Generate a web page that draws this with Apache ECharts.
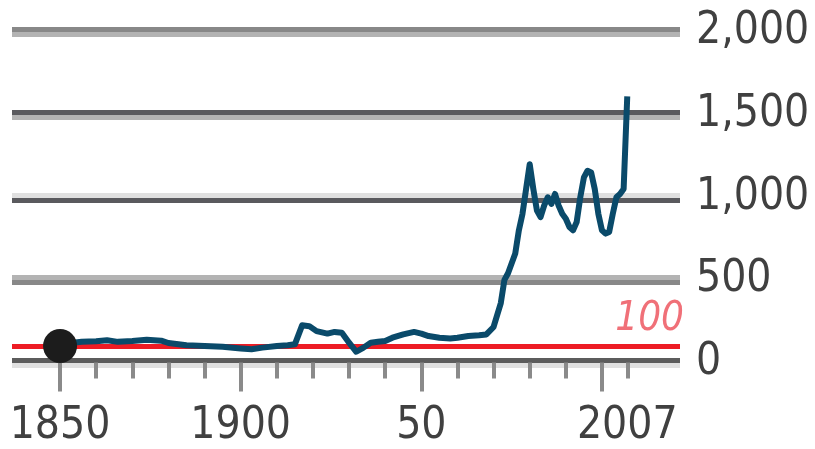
<!DOCTYPE html>
<html>
<head>
<meta charset="utf-8">
<script src="https://cdn.jsdelivr.net/npm/echarts@6/dist/echarts.min.js"></script>
<style>
html,body{margin:0;padding:0;background:#fff;}
#c{width:815px;height:449px;}
</style>
</head>
<body>
<div id="c"></div>
<script>
// ---- data ----
const years = [1850,1853,1856,1860,1863,1866,1870,1874,1878,1880,1885,1890,1895,1900,1903,1906,1910,1913,1915,1917,1919,1921,1924,1926,1928,1930,1932,1934,1936,1938,1940,1942,1945,1948,1950,1952,1955,1958,1960,1963,1966,1968,1970,1972,1973,1974,1976,1977,1978,1979,1980,1981,1982,1983,1984,1985,1986,1987,1988,1989,1990,1991,1992,1993,1994,1995,1996,1997,1998,1999,2000,2001,2002,2003,2004,2005,2006,2007];
const values = [100,118,125,128,135,125,130,138,132,118,105,100,95,85,80,90,100,105,110,225,220,190,175,185,180,120,65,90,120,125,130,150,170,185,175,160,150,145,150,160,165,170,215,360,500,540,660,800,900,1050,1200,1050,920,880,950,1000,960,1020,950,900,870,820,800,850,1000,1120,1160,1150,1050,900,800,780,790,900,1000,1020,1050,1610];
const yTicks = [0, 500, 1000, 1500, 2000];
const shortTickYears = [1860,1870,1880,1890,1910,1920,1930,1940,1960,1970,1980,1990,2007];
const longTickYears = [1850,1900,1950,2000];
const xLabelYears = [1850,1900,1950,2007];
const xLabelText = {1850:'1850',1900:'1900',1950:'50',2007:'2007'};
const baseYear = 1850, baseValue = 100;
const refLevel = 100;

// gridline two-tone colours, per tick (0,500,1000,1500,2000)
const gridTopColors = ['#5c5c5c','#b3b3b3','#e0e0e0','#5a5a5e','#888888'];
const gridBottomColors = ['#e0e0e0','#888888','#5a5a5e','#b3b3b3','#b3b3b3'];

const FONT = '"Liberation Sans Narrow","DejaVu Sans Condensed","Liberation Sans",sans-serif';
const X_MIN = 1836.7, X_MAX = 2021.6;

const chart = echarts.init(document.getElementById('c'), null, {renderer:'canvas'});
const seriesData = years.map((y,i)=>[y, values[i]]);

function bandAxis(gi, colors){
  return {gridIndex: gi, type:'value', min:0, max:2000, interval:500,
    axisLabel:{show:false}, axisLine:{show:false}, axisTick:{show:false},
    splitLine:{show:true, showMinLine:true, showMaxLine:true, lineStyle:{color:colors, width:5}}};
}
function hiddenX(gi){
  return {gridIndex: gi, type:'value', min:X_MIN, max:X_MAX, show:false};
}
const gridBase = {left:12, right:135, height:330.5, containLabel:false, outerBoundsMode:'none'};

chart.setOption({
  animation:false,
  backgroundColor:'#ffffff',
  grid:[
    Object.assign({top:32}, gridBase),
    Object.assign({top:29.5}, gridBase),
    Object.assign({top:34.5}, gridBase)
  ],
  xAxis:[
    {gridIndex:0, type:'value', min:X_MIN, max:X_MAX, position:'bottom',
      axisLine:{show:false},
      splitLine:{show:false},
      axisTick:{show:true, customValues: shortTickYears, length:16, lineStyle:{color:'#8a8a8a', width:4}},
      axisLabel:{show:true, customValues: xLabelYears, margin:42,
        formatter:(v)=>xLabelText[v] || String(v),
        fontFamily:FONT, fontSize:44, color:'#404040', lineHeight:44}
    },
    {gridIndex:0, type:'value', min:X_MIN, max:X_MAX, position:'bottom', offset:0,
      axisLine:{show:false}, splitLine:{show:false}, axisLabel:{show:false},
      axisTick:{show:true, customValues: longTickYears, length:29, lineStyle:{color:'#8a8a8a', width:4}}
    },
    hiddenX(1), hiddenX(2)
  ],
  yAxis:[
    {gridIndex:0, type:'value', min:0, max:2000, interval:500, position:'right',
      axisLine:{show:false}, axisTick:{show:false}, splitLine:{show:false},
      axisLabel:{show:true, margin:16, fontFamily:FONT, fontSize:44, color:'#404040',
        formatter:(v)=>v.toLocaleString('en-US')}
    },
    bandAxis(1, gridTopColors),
    bandAxis(2, gridBottomColors)
  ],
  series:[
    {type:'line', xAxisIndex:0, yAxisIndex:0, data:[], z:1, silent:true,
      markLine:{silent:true, symbol:['none','none'], z:1,
        lineStyle:{color:'#ed1c24', width:5, type:'solid'},
        label:{show:true, position:'insideEndTop', formatter:String(refLevel), distance:[-4,6],
          fontFamily:FONT, fontStyle:'italic', fontSize:40, color:'#f07078'},
        data:[{yAxis:refLevel}]}
    },
    {type:'line', xAxisIndex:0, yAxisIndex:0, data:seriesData, z:3,
      showSymbol:false, symbol:'none',
      lineStyle:{color:'#0a4a6a', width:6, join:'round'}},
    {type:'scatter', xAxisIndex:0, yAxisIndex:0, data:[[baseYear, baseValue]], z:5,
      symbol:'circle', symbolSize:34, itemStyle:{color:'#1c1c1c', opacity:1}}
  ]
});
</script>
</body>
</html>
